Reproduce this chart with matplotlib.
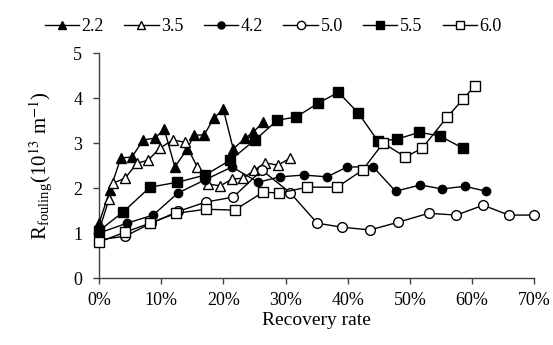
import matplotlib
matplotlib.use("Agg")
import matplotlib.pyplot as plt
from matplotlib.ticker import FuncFormatter

plt.rcParams['font.family'] = ['Liberation Serif', 'DejaVu Serif']
plt.rcParams['mathtext.fontset'] = 'stix'

# Recovery rate (fraction) and R_fouling (1e13 m^-1)
x_22 = [0.000, 0.018, 0.035, 0.053, 0.071, 0.090, 0.105, 0.122, 0.142, 0.153, 0.169, 0.185, 0.200, 0.216, 0.235, 0.248, 0.264]
y_22 = [1.22, 1.96, 2.67, 2.69, 3.07, 3.11, 3.31, 2.47, 2.87, 3.18, 3.18, 3.56, 3.75, 2.87, 3.11, 3.24, 3.47]

x_35 = [0.000, 0.016, 0.023, 0.042, 0.061, 0.079, 0.098, 0.119, 0.138, 0.158, 0.176, 0.195, 0.214, 0.232, 0.250, 0.267, 0.288, 0.308]
y_35 = [1.05, 1.75, 2.11, 2.22, 2.55, 2.62, 2.89, 3.07, 3.02, 2.47, 2.09, 2.05, 2.20, 2.22, 2.40, 2.56, 2.51, 2.67]

x_42 = [0.000, 0.045, 0.087, 0.127, 0.170, 0.214, 0.256, 0.291, 0.329, 0.367, 0.399, 0.441, 0.477, 0.517, 0.552, 0.588, 0.623]
y_42 = [1.00, 1.22, 1.40, 1.89, 2.18, 2.47, 2.13, 2.25, 2.29, 2.25, 2.47, 2.47, 1.93, 2.07, 1.98, 2.04, 1.93]

x_50 = [0.000, 0.042, 0.084, 0.127, 0.172, 0.216, 0.262, 0.308, 0.351, 0.391, 0.436, 0.481, 0.530, 0.575, 0.618, 0.659, 0.700]
y_50 = [0.85, 0.93, 1.22, 1.48, 1.69, 1.80, 2.40, 1.89, 1.22, 1.13, 1.07, 1.24, 1.44, 1.40, 1.62, 1.40, 1.40]

x_55 = [0.000, 0.039, 0.082, 0.126, 0.171, 0.211, 0.251, 0.287, 0.317, 0.353, 0.385, 0.417, 0.449, 0.480, 0.515, 0.548, 0.585]
y_55 = [1.05, 1.47, 2.02, 2.13, 2.29, 2.62, 3.07, 3.51, 3.58, 3.89, 4.13, 3.67, 3.04, 3.09, 3.24, 3.16, 2.89]

x_60 = [0.000, 0.042, 0.082, 0.124, 0.172, 0.218, 0.264, 0.290, 0.335, 0.383, 0.424, 0.457, 0.493, 0.520, 0.560, 0.586, 0.604]
y_60 = [0.80, 1.02, 1.22, 1.44, 1.53, 1.51, 1.91, 1.89, 2.02, 2.02, 2.40, 3.00, 2.69, 2.89, 3.58, 3.98, 4.27]

labels = ['2.2', '3.5', '4.2', '5.0', '5.5', '6.0']
xticks = [0.0, 0.1, 0.2, 0.3, 0.4, 0.5, 0.6, 0.7]
yticks = [0, 1, 2, 3, 4, 5]

series = [
    (x_22, y_22, '^', 'black', 7.5),
    (x_35, y_35, '^', 'white', 7.5),
    (x_42, y_42, 'o', 'black', 6),
    (x_50, y_50, 'o', 'white', 7),
    (x_55, y_55, 's', 'black', 7.5),
    (x_60, y_60, 's', 'white', 7.5),
]

fig = plt.figure(figsize=(5.53, 3.45), dpi=100)
ax = fig.add_axes([0.179, 0.194, 0.787, 0.652])

for (xs, ys, m, fc, ms), lab in zip(series, labels):
    ax.plot(xs, ys, color='black', lw=1.0, marker=m, markersize=ms,
            markerfacecolor=fc, markeredgecolor='black', markeredgewidth=1.0,
            label=lab, clip_on=False, zorder=3)

ax.set_xlim(0, 0.70)
ax.set_ylim(0, 5)
ax.set_xticks(xticks)
ax.set_yticks(yticks)
ax.xaxis.set_major_formatter(FuncFormatter(lambda v, p: f"{int(round(v*100))}%"))
ax.spines['top'].set_visible(False)
ax.spines['right'].set_visible(False)
for s in ['left', 'bottom']:
    ax.spines[s].set_linewidth(1.0)
    ax.spines[s].set_color('#404040')
ax.tick_params(axis='both', direction='out', length=4, width=1, colors='#404040',
               labelsize=13, labelcolor='black')
ax.tick_params(axis='y', pad=8)
ax.tick_params(axis='x', pad=6)
ax.set_xlabel('Recovery rate', fontsize=14, labelpad=2)
ax.set_ylabel(r'R$_{\mathregular{fouling}}$(10$^{13}$ m$^{-1}$)', fontsize=15, labelpad=14)

handles, labs = ax.get_legend_handles_labels()
fig.legend(handles, labs, loc='center', bbox_to_anchor=(0.494, 0.922), ncol=6,
           frameon=False, fontsize=13, handlelength=1.9, handletextpad=0.15,
           columnspacing=1.12, markerscale=0.85)

fig.savefig('out.png', dpi=100)
